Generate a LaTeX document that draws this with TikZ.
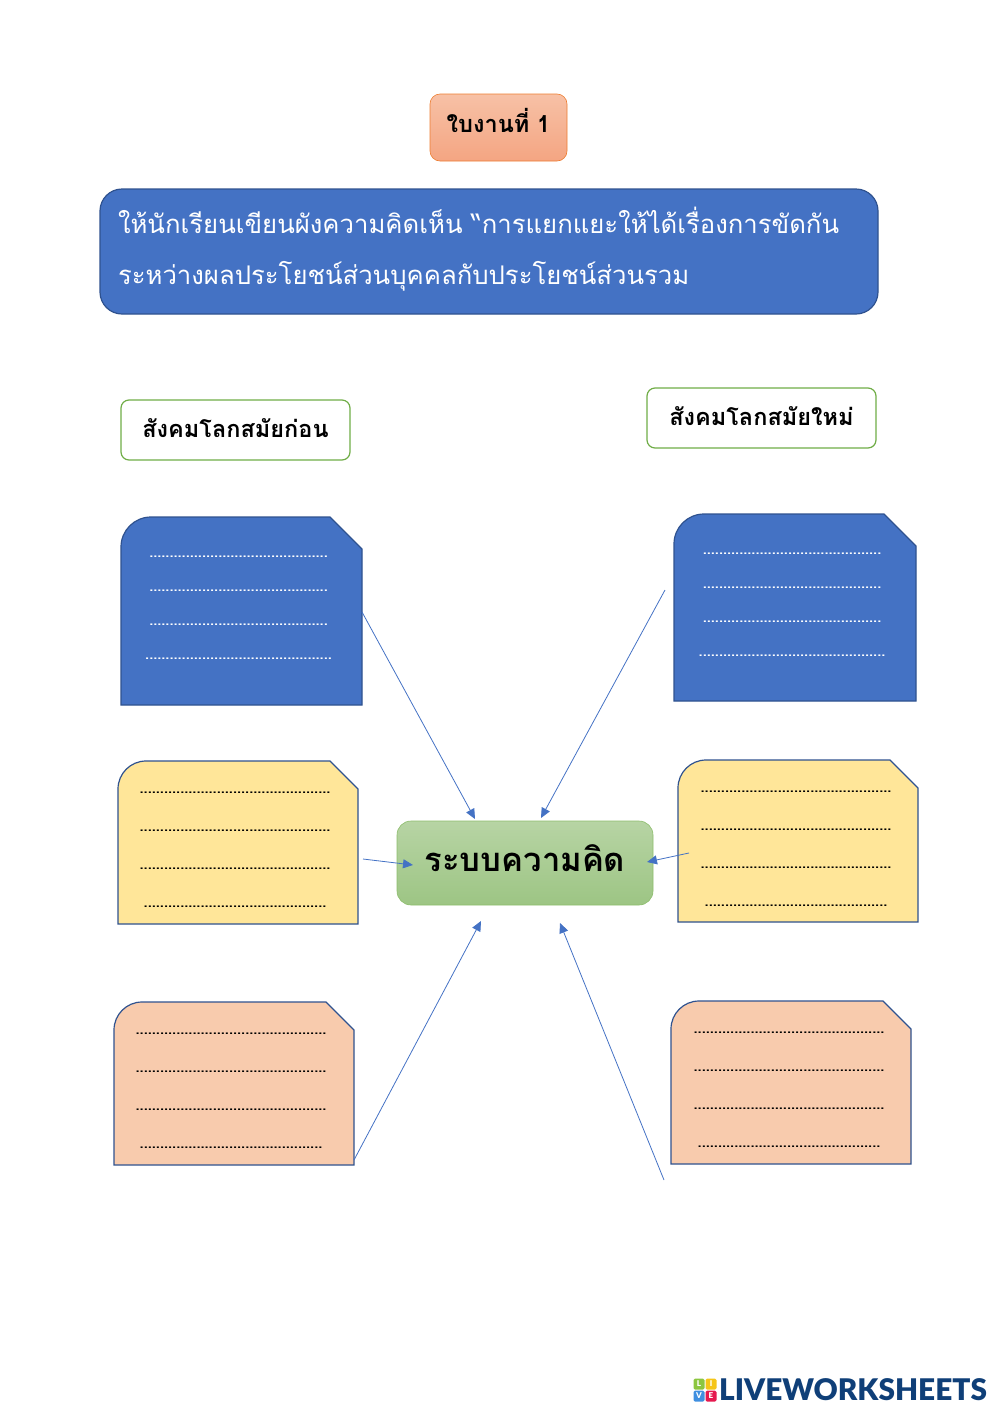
\documentclass[tikz,border=0pt]{standalone}
\usepackage{fontspec}
\setmainfont[Script=Thai]{Loma}
\newfontfamily\logofont{Lato Black}
\usetikzlibrary{arrows.meta}
\definecolor{cardblue}{HTML}{4472C4}
\definecolor{cardedge}{HTML}{2F528F}
\definecolor{cardyellow}{HTML}{FFE699}
\definecolor{cardorange}{HTML}{F8CBAD}
\definecolor{headgreen}{HTML}{70AD47}
\definecolor{logoblue}{HTML}{0F3F78}
\definecolor{titletop}{HTML}{F7C1A6}
\definecolor{titlelow}{HTML}{F4A582}
\definecolor{titleedge}{HTML}{ED7D31}
\definecolor{mindtop}{HTML}{B7D4A4}
\definecolor{mindlow}{HTML}{9DC584}
\definecolor{tilegreen}{HTML}{8CC63F}
\definecolor{tileyellow}{HTML}{F5C518}
\definecolor{tileblue}{HTML}{3F8FE0}
\definecolor{tilered}{HTML}{E5194F}
\tikzstyle{head_box}=[rectangle,
        draw=headgreen,
        line width=1.2pt,
        fill=white,
        minimum width=229pt,
        minimum height=60pt,
        rounded corners=8pt,
        font=\bfseries\fontsize{23.5}{23.5}\selectfont]
\tikzstyle{link}=[-{Triangle[length=10pt,width=9pt]}, draw=cardblue, line width=0.8pt]
\tikzstyle{dot_row}=[inner sep=0pt, font=\bfseries\fontsize{14.6}{14.6}\selectfont]
\tikzstyle{logo_tile}=[rectangle,
        minimum size=11pt,
        inner sep=0pt,
        rounded corners=1.5pt,
        text=white,
        font=\logofont\fontsize{8}{8}\selectfont]

\begin{document}
\begin{tikzpicture}[x=1pt,y=-1pt]
    \useasboundingbox (0,0) rectangle (1000,1414);

    \node at (498.5,127.5) (title) [rectangle, draw=titleedge, line width=0.6pt,
        top color=titletop, bottom color=titlelow, minimum width=137pt, minimum height=67pt,
        rounded corners=10pt, font=\bfseries\fontsize{23.5}{23.5}\selectfont] {\raisebox{14pt}{ใบงานที่ 1}};

    \node at (489,251.5) (task) [rectangle, draw=cardedge, line width=1.2pt, fill=cardblue,
        minimum width=778pt, minimum height=125pt, rounded corners=22pt, text=white,
        align=left, text width=742pt, font=\fontsize{25.7}{51}\selectfont]
        {\raisebox{-7pt}[0pt][0pt]{ให้นักเรียนเขียนผังความคิดเห็น “การแยกแยะให้ได้เรื่องการขัดกัน}\\\raisebox{-7pt}[0pt][0pt]{ระหว่างผลประโยชน์ส่วนบุคคลกับประโยชน์ส่วนรวม}};

    \node at (235.5,430) (old) [head_box] {\raisebox{3pt}{สังคมโลกสมัยก่อน}};
    \node at (761.5,418) (new) [head_box] {\raisebox{3pt}{สังคมโลกสมัยใหม่}};

    \foreach \name/\cx/\cy/\w/\h/\rad/\cut/\fillc/\dotc/\dx/\dy/\gap/\na/\nb in {
        bluea/121/517/241/188/30/32/cardblue/white/238.5/557/34/44/46,
        blueb/674/514/242/187/30/32/cardblue/white/792/554/34/44/46,
        yellowa/118/761/240/163/28/28/cardyellow/black/235/793/38/47/45,
        yellowb/678/760/240/162/28/28/cardyellow/black/796/792/38/47/45,
        orangea/114/1002/240/163/28/28/cardorange/black/231/1034/38/47/45,
        orangeb/671/1001/240/163/28/28/cardorange/black/789/1033/38/47/45} {
        \draw[draw=cardedge, line width=1.2pt, fill=\fillc]
            (\cx,\cy+\h) [rounded corners=\rad pt] -- (\cx,\cy) [sharp corners]
            -- (\cx+\w-\cut,\cy) -- (\cx+\w,\cy+\cut) -- (\cx+\w,\cy+\h) -- cycle;
        \foreach \i in {0,1,2} {
            \node at (\dx,{\dy+\i*\gap}) (\name-row\i) [dot_row, text=\dotc]
                {\foreach \k in {1,...,\na} {.}};
        }
        \node at (\dx,{\dy+3*\gap}) (\name-row3) [dot_row, text=\dotc]
            {\foreach \k in {1,...,\nb} {.}};
    }

    \node at (525,863) (mind) [rectangle, draw=headgreen!80, line width=0.6pt,
        top color=mindtop, bottom color=mindlow, minimum width=256pt, minimum height=84pt,
        rounded corners=14pt, font=\bfseries\fontsize{32.8}{32.8}\selectfont] {\raisebox{9pt}{ระบบความคิด}};

    \coordinate (a1) at (362,612);  \coordinate (a2) at (475,819);
    \coordinate (b1) at (665,590);  \coordinate (b2) at (541,818);
    \coordinate (c1) at (363,859);  \coordinate (c2) at (413,865);
    \coordinate (d1) at (689,853);  \coordinate (d2) at (647,862);
    \coordinate (e1) at (354,1160); \coordinate (e2) at (481,921);
    \coordinate (f1) at (664,1180); \coordinate (f2) at (560,923);
    \foreach \la in {a,b,c,d,e,f} {
        \draw[link] (\la1) -- (\la2);
    }

    \node at (699,1384) (tileL) [logo_tile, fill=tilegreen] {L};
    \node at (711,1384) (tileI) [logo_tile, fill=tileyellow] {I};
    \node at (699,1396) (tileV) [logo_tile, fill=tileblue] {V};
    \node at (711,1396) (tileE) [logo_tile, fill=tilered] {E};
    \node at (719,1390) (logo) [anchor=west, inner sep=0pt, text=logoblue,
        font=\logofont\fontsize{29.8}{29.8}\selectfont] {LIVEWORKSHEETS};
\end{tikzpicture}
\end{document}
